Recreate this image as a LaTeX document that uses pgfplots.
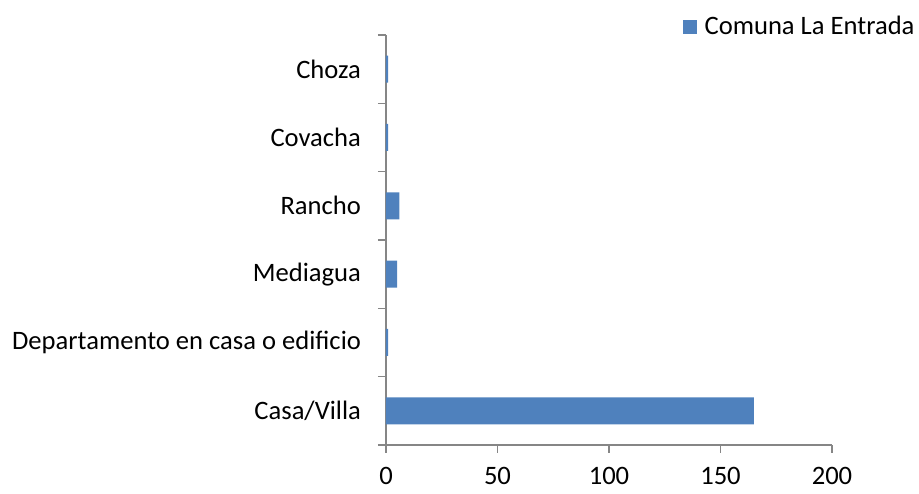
\documentclass[border=0pt]{standalone}
\usepackage{pgfplots}
\pgfplotsset{compat=1.18}
\usepackage{fontspec}
\setmainfont{Carlito}
\definecolor{barblue}{HTML}{4F81BD}
\definecolor{axgray}{HTML}{868686}
\begin{document}
\fontsize{26.6}{31}\selectfont
\begin{tikzpicture}
\begin{axis}[
  name=ax,
  scale only axis,
  width=446pt, height=410pt,
  xbar, bar width=27pt,
  xmin=0, xmax=200,
  ymin=-0.5, ymax=5.5,
  axis lines*=left,
  axis line style={axgray, line width=1.2pt},
  xtick={0,50,100,150,200},
  ytick={0,1,2,3,4,5},
  yticklabels={Casa/Villa, Departamento en casa o edificio, Mediagua, Rancho, Covacha, Choza},
  minor ytick={-0.5,0.5,1.5,2.5,3.5,4.5,5.5},
  major tick length=8pt,
  minor tick length=8pt,
  xtick style={draw=axgray, line width=1.2pt},
  major y tick style={draw=none},
  minor y tick style={draw=axgray, line width=1.2pt},
  tick align=outside,
  yticklabel style={font=\fontsize{26.6}{31}\selectfont, xshift=-8pt},
  xticklabel style={font=\fontsize{26.6}{31}\selectfont, yshift=-5pt},
  /pgf/number format/assume math mode=true,
  legend style={draw=none, fill=none, at={(1.19,1.02)}, anchor=east,
    font=\fontsize{26.6}{31}\selectfont, inner sep=0pt,
    /tikz/every odd column/.append style={column sep=6pt}},
  legend image code/.code={\fill[barblue] (0pt,-7pt) rectangle (14pt,7pt);},
  clip=false,
]
\addplot[fill=barblue, draw=none] coordinates {
  (165,0) (1,1) (5,2) (6,3) (1,4) (1,5)
};
\addlegendentry{Comuna La Entrada}
\end{axis}
\useasboundingbox ([shift={(-386pt,-45pt)}]ax.south west) rectangle ([shift={(87pt,35pt)}]ax.north east);
\end{tikzpicture}
\end{document}
